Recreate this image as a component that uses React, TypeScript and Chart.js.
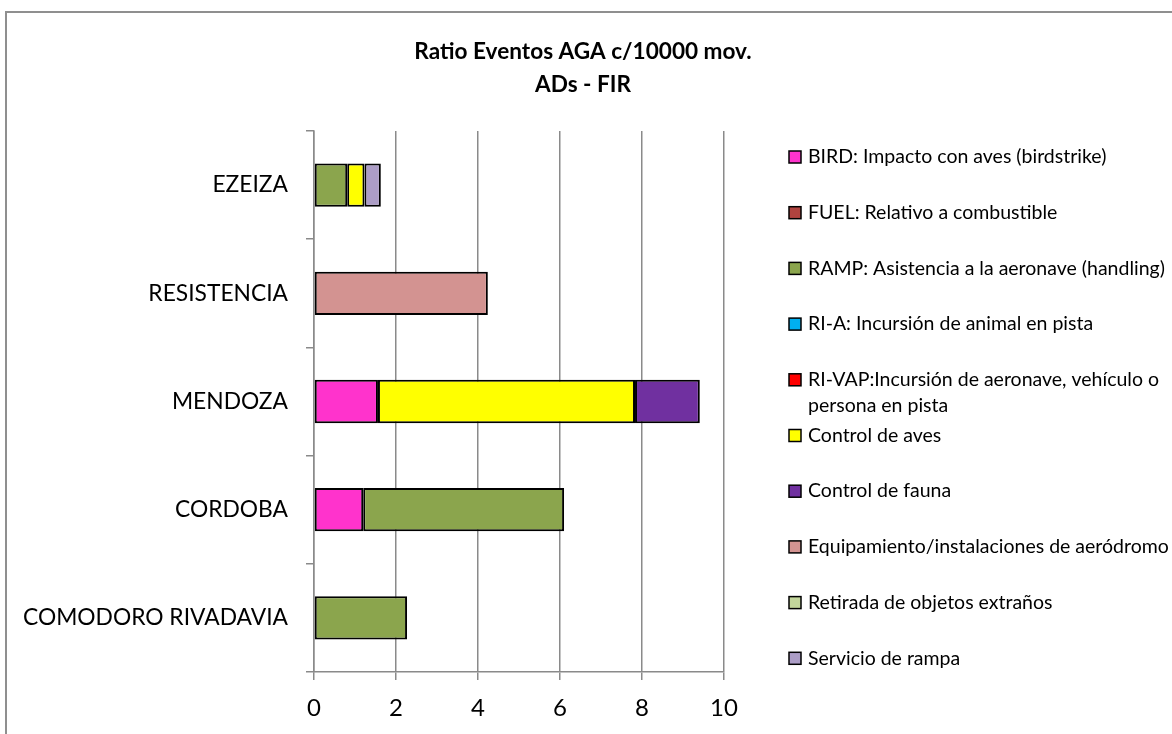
import React, { useEffect, useRef } from "react";
import { Chart, registerables } from "chart.js";

Chart.register(...registerables);

const categories = ["EZEIZA", "RESISTENCIA", "MENDOZA", "CORDOBA", "COMODORO RIVADAVIA"];
const titleLines = ["Ratio Eventos AGA c/10000 mov.", "ADs - FIR"];
const xTicks = [0, 2, 4, 6, 8, 10];

const seriesNames = [
  "BIRD: Impacto con aves (birdstrike)",
  "FUEL: Relativo a combustible",
  "RAMP: Asistencia a la aeronave (handling)",
  "RI-A: Incursión de animal en pista",
  "RI-VAP:Incursión de aeronave, vehículo o\npersona en pista",
  "Control de aves",
  "Control de fauna",
  "Equipamiento/instalaciones de aeródromo",
  "Retirada de objetos extraños",
  "Servicio de rampa",
];

const bird = [null, null, 1.56, 1.2, null];
const fuel = [null, null, null, null, null];
const ramp = [0.81, null, null, 4.9, 2.27];
const riA = [null, null, null, null, null];
const riVap = [null, null, null, null, null];
const controlAves = [0.42, null, 6.27, null, null];
const controlFauna = [null, null, 1.58, null, null];
const equipamiento = [null, 4.24, null, null, null];
const retirada = [null, null, null, null, null];
const servicioRampa = [0.4, null, null, null, null];

const seriesValues = [bird, fuel, ramp, riA, riVap, controlAves, controlFauna, equipamiento, retirada, servicioRampa];
const seriesColors = [
  "#FF33CC",
  "#B0433F",
  "#8BA54D",
  "#00B0F0",
  "#FF0000",
  "#FFFF00",
  "#7030A0",
  "#D39391",
  "#C3D69B",
  "#AC9DC6",
];

const FONT = "Lato, 'Open Sans', sans-serif";

const decorPlugin = {
  id: "decor",
  beforeDraw(chart: any) {
    const ctx = chart.ctx;
    ctx.save();
    ctx.fillStyle = "#ffffff";
    ctx.fillRect(0, 0, chart.width, chart.height);
    ctx.strokeStyle = "#8f8f8f";
    ctx.lineWidth = 2;
    ctx.strokeRect(6, 12, chart.width + 20, chart.height + 20);
    ctx.restore();
  },
  afterDraw(chart: any) {
    const ctx = chart.ctx;
    ctx.save();
    // title
    ctx.fillStyle = "#000";
    ctx.font = `bold 22.6px ${FONT}`;
    ctx.textAlign = "center";
    ctx.textBaseline = "middle";
    ctx.fillText(titleLines[0], 583, 52);
    ctx.fillText(titleLines[1], 583, 85);
    // legend
    ctx.textAlign = "left";
    ctx.font = `19.5px ${FONT}`;
    const boxX = 789;
    const textX = 808;
    const startY = 157;
    const step = 55.7;
    chart.data.datasets.forEach((ds: any, i: number) => {
      const y = startY + i * step;
      ctx.fillStyle = ds.backgroundColor;
      ctx.fillRect(boxX, y - 6, 12, 12);
      ctx.strokeStyle = "#000";
      ctx.lineWidth = 1.5;
      ctx.strokeRect(boxX, y - 6, 12, 12);
      ctx.fillStyle = "#000";
      const lines = String(ds.label).split("\n");
      lines.forEach((ln: string, j: number) => {
        ctx.fillText(ln, textX, y + j * 26);
      });
    });
    ctx.restore();
  },
};

export default function App() {
  const ref = useRef<HTMLCanvasElement | null>(null);
  useEffect(() => {
    if (!ref.current) return;
    const chart = new Chart(ref.current, {
      type: "bar",
      data: {
        labels: categories,
        datasets: seriesNames.map((name, i) => ({
          label: name,
          data: seriesValues[i],
          backgroundColor: seriesColors[i],
          borderColor: "#000",
          borderWidth: 2,
          borderSkipped: false,
          categoryPercentage: 1,
          barPercentage: 0.4,
        })),
      },
      options: {
        indexAxis: "y",
        responsive: false,
        animation: false,
        layout: { padding: { left: 0, top: 131, right: 448, bottom: 0 } },
        plugins: {
          legend: { display: false },
          title: { display: false },
          tooltip: { enabled: false },
        },
        scales: {
          x: {
            stacked: true,
            min: 0,
            max: 10,
            afterFit: (s: any) => {
              s.height = 62;
            },
            afterBuildTicks: (s: any) => {
              s.ticks = xTicks.map((v) => ({ value: v }));
            },
            grid: { color: "#8a8a8a", lineWidth: 1.5, tickLength: 8 },
            border: { color: "#8a8a8a", width: 1.5 },
            ticks: { color: "#000", font: { family: FONT, size: 24 }, padding: 14 },
          },
          y: {
            stacked: true,
            afterFit: (s: any) => {
              s.width = 314;
            },
            grid: { drawOnChartArea: false, color: "#8a8a8a", lineWidth: 1.5, tickLength: 8, offset: true },
            border: { color: "#8a8a8a", width: 1.5 },
            ticks: { color: "#000", font: { family: FONT, size: 22.8 }, padding: 18 },
          },
        },
      },
      plugins: [decorPlugin],
    } as any);
    return () => chart.destroy();
  }, []);
  return (
    <div style={{ position: "fixed", left: 0, top: 0, width: 1172, height: 734, background: "#fff" }}>
      <canvas ref={ref} width={1172} height={734} style={{ display: "block" }} />
    </div>
  );
}
